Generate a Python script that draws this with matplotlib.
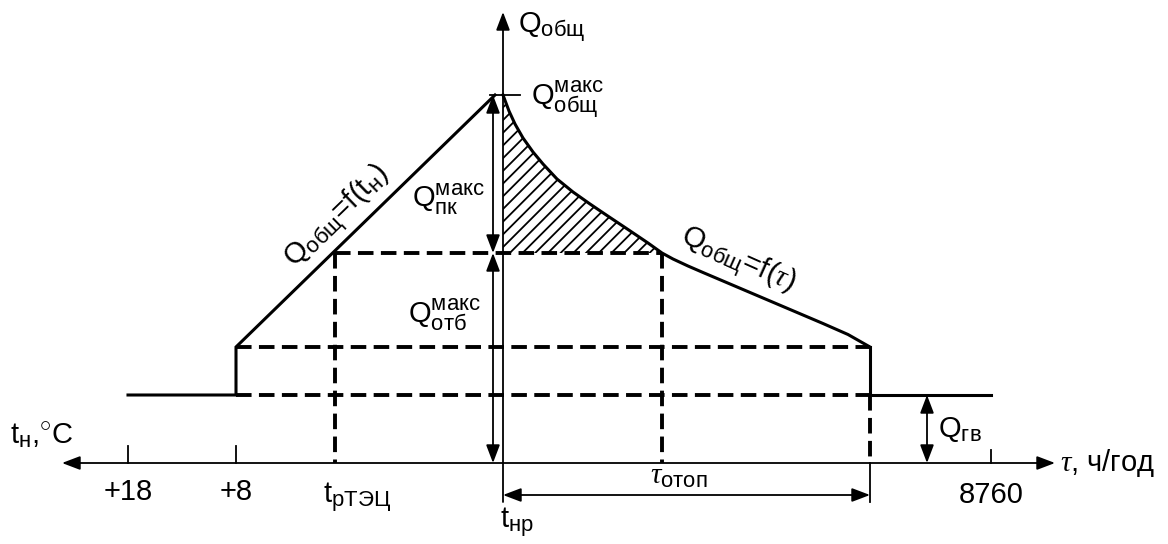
import matplotlib
matplotlib.use("Agg")
import matplotlib.pyplot as plt
import matplotlib._mathtext as mathtext_core
import numpy as np
from matplotlib.patches import Polygon
from matplotlib.collections import LineCollection

plt.rcParams['font.family'] = 'Liberation Sans'
plt.rcParams['mathtext.fontset'] = 'custom'
plt.rcParams['mathtext.rm'] = 'Liberation Sans'
plt.rcParams['mathtext.it'] = 'Liberation Serif:italic'
plt.rcParams['mathtext.default'] = 'rm'
# slightly larger sub/superscripts than the default 0.7
mathtext_core.SHRINK_FACTOR = 0.76

# schematic units: origin where the two axes cross, y up
# temperature side (left, negative x)
t_ticks = [-375, -267]
t_tick_labels = ['+18', '+8']
t_rtec = -168          # t_рТЭЦ
t_peak = -8            # t_нр reached by the Q=f(t_н) line
# hours side (right, positive x)
tau_tec = 159
tau_otop = 367
tau_year = 488

# load levels
q_gv = 68
q_step = 116
q_otb = 210
q_max = 368

# duration curve Q_общ = f(τ)
curve_tau = [0, 6, 12, 20, 30, 40, 54, 70, 87, 104, 125, 145, 159,
             170, 185, 200, 240, 280, 320, 345, 367]
curve_q = [368, 352, 339, 325, 311, 299, 284, 271, 259, 247.5, 233.5, 220, 210,
           204, 197, 190.5, 173.5, 156.5, 139.5, 128.5, 116]

fig = plt.figure(figsize=(11.68, 5.44), dpi=100)
ax = fig.add_axes([0, 0, 1, 1])
ax.set_xlim(-503, 665)
ax.set_ylim(-81, 463)
ax.axis('off')

K = 'black'
thick = 2.2
thin = 1.3


def arrow(p0, p1, style='-|>'):
    ax.annotate('', xy=p1, xytext=p0,
                arrowprops=dict(arrowstyle=style + ',head_length=1.0,head_width=0.38',
                                mutation_scale=11, lw=thin, color=K,
                                shrinkA=0, shrinkB=0))


def dashed(xs, ys):
    ln, = ax.plot(xs, ys, color=K, lw=2.8, solid_capstyle='butt')
    ln.set_dashes((4.0, 1.9))


# axes
arrow((-441, 0), (552, 0), '<|-|>')
arrow((0, -39), (0, 451))
for x in t_ticks:
    ax.plot([x, x], [0, 17], color=K, lw=thin)
ax.plot([tau_year, tau_year], [0, 13], color=K, lw=thin)
ax.plot([tau_otop, tau_otop], [0, -39], color=K, lw=thin)
ax.plot([-13, 17], [q_max, q_max], color=K, lw=thin)

# load graph, left part
ax.plot([t_ticks[0], t_ticks[1], t_ticks[1], t_peak],
        [q_gv, q_gv, q_step, q_max], color=K, lw=thick, solid_joinstyle='miter')
# load graph, right part
ax.plot(curve_tau, curve_q, color=K, lw=thick)
ax.plot([tau_otop, tau_otop, tau_year], [q_step, q_gv, q_gv], color=K, lw=thick,
        solid_joinstyle='miter')

# dashed construction lines
dashed([t_rtec, tau_tec], [q_otb, q_otb])
dashed([t_ticks[1], tau_otop], [q_step, q_step])
dashed([t_ticks[1], tau_otop], [q_gv, q_gv])
dashed([t_rtec, t_rtec], [q_otb, 0])
dashed([tau_tec, tau_tec], [q_otb, 0])
dashed([tau_otop, tau_otop], [q_gv, 0])

# hatched peak-boiler area
ct = np.array(curve_tau)
cq = np.array(curve_q)
sel = ct <= tau_tec
poly = np.column_stack([np.r_[0, ct[sel]], np.r_[q_otb, cq[sel]]])
clip = Polygon(poly, closed=True, transform=ax.transData)
segs = [[(-20, -20 + c), (200, 200 + c)] for c in np.arange(0, 420, 12.7)]
hatch = LineCollection(segs, colors=K, linewidths=1.3)
hatch.set_clip_path(clip)
ax.add_collection(hatch)

# dimension arrows
arrow((-10, q_otb), (-10, q_max), '<|-|>')
arrow((-10, 0), (-10, q_otb), '<|-|>')
arrow((424, 0), (424, q_gv), '<|-|>')
arrow((0, -32), (tau_otop, -32), '<|-|>')

fs = 21
# labels
ax.text(15, 430, r'$Q_{общ}$', fontsize=fs, va='baseline')
ax.text(28, 358, r'$Q_{общ}^{макс}$', fontsize=fs, va='baseline')
ax.text(-91, 256, r'$Q_{пк}^{макс}$', fontsize=fs, va='baseline')
ax.text(-95, 140, r'$Q_{отб}^{макс}$', fontsize=fs, va='baseline')
ax.text(435, 26, r'$Q_{гв}$', fontsize=fs, va='baseline')
ax.text(-493, 20, r'$t_{н}{,}^{\circ}C$', fontsize=fs, va='baseline')
for x, lab in zip(t_ticks, t_tick_labels):
    ax.text(x, -37, lab, fontsize=fs, ha='center', va='baseline')
ax.text(-180, -40, r'$t_{рТЭЦ}$', fontsize=fs, va='baseline')
ax.text(-3, -65, r'$t_{нр}$', fontsize=fs, va='baseline')
ax.text(147, -20, r'$\mathit{\tau}_{отоп}$', fontsize=fs, va='baseline')
ax.text(tau_year, -40, '8760', fontsize=fs, ha='center', va='baseline')
ax.text(557, -8, r'$\mathit{\tau}$, ч/год', fontsize=fs, va='baseline')

ax.text(-165, 245, r'$Q_{общ}$=f($t_{н}$)', fontsize=fs, rotation=44.2,
        rotation_mode='anchor', ha='center', va='center')
ax.text(234, 202, r'$Q_{общ}$=f($\mathit{\tau}$)', fontsize=fs, rotation=-24,
        rotation_mode='anchor', ha='center', va='center')

fig.savefig('out.png', dpi=100)
